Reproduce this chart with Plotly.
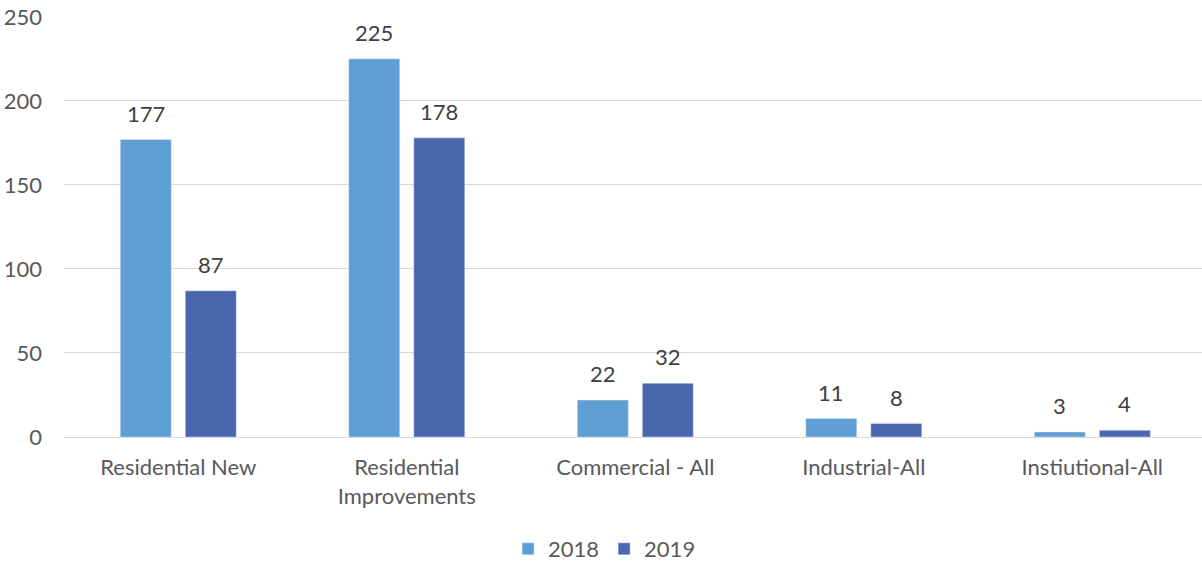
import plotly.graph_objects as go

categories = ["Residential New", "Residential<br>Improvements", "Commercial - All", "Industrial-All", "Instiutional-All"]
values_2018 = [177, 225, 22, 11, 3]
values_2019 = [87, 178, 32, 8, 4]
y_ticks = [0, 50, 100, 150, 200, 250]

font_family = "Lato, 'Open Sans', sans-serif"
text_color = "#595959"
label_color = "#404040"
FS = 22

fig = go.Figure()
fig.add_trace(go.Bar(name="2018", x=categories, y=values_2018, marker_color="#5F9ED3"))
fig.add_trace(go.Bar(name="2019", x=categories, y=values_2019, marker_color="#4A66AE"))

annotations = []
for series, shift in ((values_2018, -32.5), (values_2019, 32.5)):
    for cat, v in zip(categories, series):
        annotations.append(dict(x=cat, y=v, xref="x", yref="y", text=str(v), showarrow=False,
                                xshift=shift, yshift=11, yanchor="bottom",
                                font=dict(size=FS, color=label_color, family=font_family)))

fig.update_layout(
    width=1202, height=563,
    margin=dict(l=64, r=0, t=16, b=126, autoexpand=False),
    barmode="group", bargap=0.431, bargroupgap=0.215,
    plot_bgcolor="white", paper_bgcolor="white",
    font=dict(family=font_family, size=FS, color=text_color),
    showlegend=True,
    legend=dict(orientation="h", x=0.475, xanchor="center", y=-0.266, yanchor="middle",
                font=dict(size=FS, color=text_color)),
    yaxis=dict(range=[0, 250.5], tickvals=y_ticks, showgrid=True, gridcolor="#D9D9D9",
               gridwidth=1.3, zeroline=True, zerolinecolor="#D9D9D9", zerolinewidth=1.3,
               ticks="", tickfont=dict(size=FS, color=text_color), ticklabelstandoff=21,
               automargin=False),
    xaxis=dict(range=[-0.5, 4.48], showline=False, ticks="", automargin=False,
               tickfont=dict(size=FS, color=text_color), ticklabelstandoff=15),
    annotations=annotations,
)

fig.write_html("out.html", config={"displayModeBar": False},
               post_script="document.body.style.margin='0';document.body.style.overflow='hidden';")
